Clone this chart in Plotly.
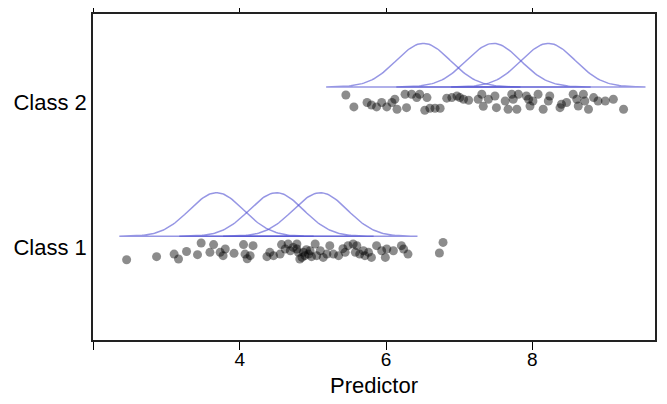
import numpy as np
import plotly.graph_objects as go

# jittered points
class1_x = [2.45, 2.86, 3.10, 3.16, 3.27, 3.42, 3.47, 3.59, 3.64, 3.73, 3.77, 3.80, 3.92, 4.05, 4.07,
            4.10, 4.14, 4.18, 4.37, 4.41, 4.46, 4.55, 4.57, 4.62, 4.66, 4.69, 4.73, 4.78, 4.78, 4.80,
            4.82, 4.85, 4.87, 4.89, 4.91, 4.94, 4.96, 4.98, 5.03, 5.05, 5.10, 5.14, 5.19, 5.23, 5.28,
            5.35, 5.41, 5.44, 5.48, 5.55, 5.58, 5.60, 5.64, 5.69, 5.71, 5.76, 5.80, 5.87, 5.94, 5.99,
            6.01, 6.10, 6.21, 6.24, 6.30, 6.73, 6.78]
class1_y = [0.915, 0.936, 0.954, 0.920, 0.972, 0.950, 1.030, 0.966, 1.019, 0.966, 0.943, 0.989, 0.959, 1.019, 0.954,
            0.922, 0.943, 1.012, 0.936, 0.966, 0.943, 0.954, 1.019, 0.989, 1.023, 0.977, 1.000, 1.023, 0.989, 0.966,
            0.920, 0.931, 0.966, 0.943, 0.984, 0.954, 0.977, 0.936, 1.023, 0.943, 0.977, 0.931, 0.954, 1.012, 0.954,
            0.943, 0.991, 0.966, 1.012, 1.023, 0.966, 1.012, 0.954, 0.977, 0.943, 0.966, 0.931, 1.012, 0.977, 0.931,
            0.989, 0.977, 1.012, 0.989, 0.954, 0.961, 1.034]

class2_x = [5.45, 5.56, 5.74, 5.80, 5.87, 5.94, 6.01, 6.08, 6.12, 6.15, 6.26, 6.28, 6.35, 6.42, 6.46,
            6.53, 6.56, 6.60, 6.67, 6.74, 6.83, 6.90, 6.97, 7.01, 7.06, 7.13, 7.26, 7.31, 7.33, 7.40,
            7.49, 7.51, 7.63, 7.67, 7.72, 7.74, 7.79, 7.81, 7.92, 7.95, 7.97, 8.01, 8.08, 8.15, 8.22,
            8.24, 8.38, 8.40, 8.47, 8.56, 8.61, 8.63, 8.70, 8.72, 8.77, 8.84, 8.90, 9.00, 9.11, 9.25]
class2_y = [2.048, 1.966, 1.996, 1.979, 1.966, 1.996, 1.966, 1.996, 2.019, 1.950, 2.053, 1.961, 2.053, 2.030, 2.053,
            1.943, 2.030, 1.957, 1.957, 1.957, 2.026, 2.030, 2.041, 2.030, 2.019, 2.012, 2.019, 2.053, 1.970, 2.019,
            2.041, 1.961, 2.007, 1.950, 2.053, 2.019, 1.950, 2.053, 2.041, 2.019, 1.972, 2.007, 2.053, 1.950, 2.007,
            2.041, 1.961, 1.984, 1.996, 2.053, 2.019, 1.972, 2.053, 2.007, 1.950, 2.030, 2.007, 2.007, 2.019, 1.950]

# normal curves drawn above each class
class1_means = [3.68, 4.50, 5.10]
class2_means = [6.51, 7.47, 8.22]
curve_sd = 0.37
curve_halfspan = 1.33
curve_height = 0.30
class1_base = 1.076
class2_base = 2.103

tick_vals = [2, 4, 6, 8]
tick_text = ["", "4", "6", "8"]
class_labels = ["Class 1", "Class 2"]

fig = go.Figure()

for means, base in [(class1_means, class1_base), (class2_means, class2_base)]:
    for m in means:
        xs = np.linspace(m - curve_halfspan, m + curve_halfspan, 120)
        ys = base + curve_height * np.exp(-0.5 * ((xs - m) / curve_sd) ** 2)
        fig.add_trace(go.Scatter(x=list(xs) + [m + curve_halfspan, m - curve_halfspan],
                                 y=list(ys) + [base, base], mode="lines",
                                 line=dict(color="rgba(80,80,210,0.6)", width=1.5),
                                 hoverinfo="skip", showlegend=False))

for xs, ys in [(class1_x, class1_y), (class2_x, class2_y)]:
    fig.add_trace(go.Scatter(x=xs, y=ys, mode="markers",
                             marker=dict(size=9, color="rgba(0,0,0,0.45)", line=dict(width=0)),
                             showlegend=False))

# page body adds an 8px offset, so the figure is a bit smaller than the window
fig.update_layout(
    width=659, height=396, plot_bgcolor="white", paper_bgcolor="white",
    margin=dict(l=85, r=12, t=6, b=64),
    font=dict(family="Liberation Sans, Arial, sans-serif", size=19, color="black"),
    xaxis=dict(range=[1.99, 9.68], tickvals=tick_vals, ticktext=tick_text, ticks="outside",
               ticklen=8, tickwidth=1, tickcolor="black", showgrid=False, zeroline=False,
               showline=True, linecolor="#222", linewidth=1.5, mirror="ticks", automargin=False,
               ticklabelstandoff=-7,
               title=dict(text="Predictor", standoff=9, font=dict(size=22))),
    yaxis=dict(range=[0.363, 2.605], tickvals=[1, 2], ticktext=class_labels, ticks="",
               tickfont=dict(size=22), automargin=False,
               showgrid=False, zeroline=False, showline=True, linecolor="#222", linewidth=1.5,
               mirror=True, ticklabelstandoff=0),
)

fig.write_html("out.html")
